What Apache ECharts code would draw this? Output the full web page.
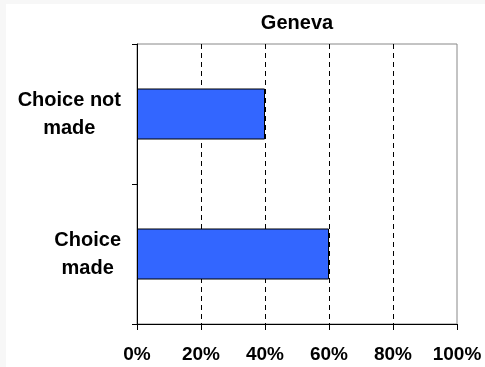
<!DOCTYPE html>
<html>
<head>
<meta charset="utf-8">
<script src="https://cdn.jsdelivr.net/npm/echarts@6/dist/echarts.min.js"></script>
<style>
  html, body { margin: 0; padding: 0; background: #f7f7f7; }
  #main { position: absolute; left: 6px; top: 4px; width: 479px; height: 363px; background: #fff; }
</style>
</head>
<body>
<div id="main"></div>
<script>
// categories go bottom -> top on a vertical category axis
var categories = ["Choice\nmade", "Choice not\nmade"];
var shares = [60, 40];
var chartTitle = "Geneva";

var font = "'Liberation Sans', Arial, sans-serif";

var myChart = echarts.init(document.getElementById("main"));
var option = {
  animation: false,
  title: {
    text: chartTitle,
    left: 291,
    top: 9,
    padding: 0,
    textAlign: "center",
    textStyle: { fontFamily: font, fontSize: 20, fontWeight: "bold", color: "#000" }
  },
  grid: {
    left: 131,
    right: 28,
    top: 40,
    bottom: 43,
    show: true,
    borderColor: "#888",
    borderWidth: 1,
    backgroundColor: "#fff"
  },
  xAxis: {
    type: "value",
    min: 0,
    max: 100,
    interval: 20,
    axisLine: { show: true, lineStyle: { color: "#000", width: 1 } },
    axisTick: { show: true, length: 6, lineStyle: { color: "#000" } },
    axisLabel: {
      formatter: "{value}%",
      margin: 21,
      color: "#000",
      fontFamily: font,
      fontSize: 19,
      fontWeight: "bold"
    },
    splitLine: {
      show: true,
      showMinLine: false,
      showMaxLine: false,
      lineStyle: { color: "#000", width: 1, type: [5, 4] }
    }
  },
  yAxis: {
    type: "category",
    data: categories,
    axisLine: { show: true, lineStyle: { color: "#000", width: 1 } },
    axisTick: { show: true, length: 5, lineStyle: { color: "#000" } },
    axisLabel: {
      margin: 16,
      formatter: function (v) {
        return v.split("\n").map(function (l) { return "{c|" + l + "}"; }).join("\n");
      },
      rich: {
        c: {
          align: "center",
          lineHeight: 28,
          color: "#000",
          fontFamily: font,
          fontSize: 20,
          fontWeight: "bold"
        }
      }
    },
    splitLine: { show: false }
  },
  series: [
    {
      name: chartTitle,
      type: "bar",
      data: shares,
      barWidth: 51,
      itemStyle: { color: "#3366ff", borderColor: "#000", borderWidth: 1 }
    }
  ]
};
myChart.setOption(option);
</script>
</body>
</html>
